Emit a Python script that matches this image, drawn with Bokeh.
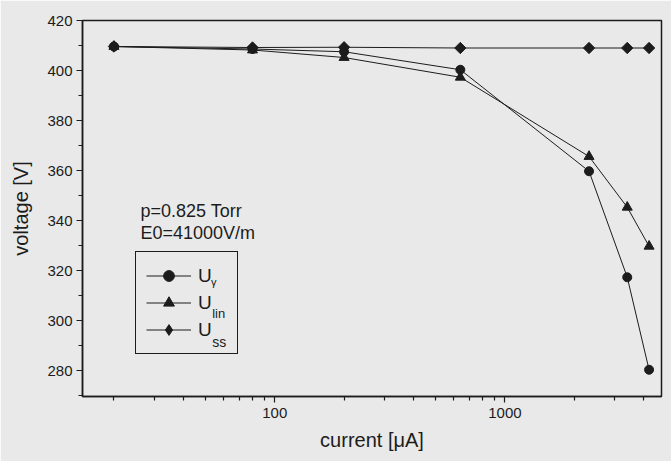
from bokeh.plotting import figure
from bokeh.models import (Range1d, FixedTicker, NumeralTickFormatter, Legend,
                          LegendItem, Label)
from bokeh.embed import file_html
from bokeh.resources import INLINE
import numpy as np

# ---- data ----
current = [20, 80, 200, 640, 2320, 3400, 4230]          # µA
u_gamma = [409.6, 408.6, 407.5, 400.3, 359.7, 317.3, 280.3]
u_lin = [409.6, 408.2, 405.2, 397.3, 365.6, 345.3, 329.7]
u_ss = [409.6, 409.2, 409.3, 409.0, 409.0, 409.0, 409.0]

x_major = [100, 1000]
x_minor = [20, 30, 40, 50, 60, 70, 80, 90,
           200, 300, 400, 500, 600, 700, 800, 900,
           2000, 3000, 4000]
y_major = [280, 300, 320, 340, 360, 380, 400, 420]
y_minor = [270, 290, 310, 330, 350, 370, 390, 410]

series_names = ["U", "U", "U"]
series_subs = ["γ", "lin", "ss"]

BG = "#e9e9e9"
INK = "#1c1c1c"
FONT = "Liberation Sans"

p = figure(width=671, height=461, x_axis_type="log",
           x_range=Range1d(14.6, 4790), y_range=Range1d(269.6, 420),
           output_backend="svg", toolbar_location=None,
           min_border_left=82, min_border_right=10,
           min_border_top=20, min_border_bottom=65,
           background_fill_color=BG, border_fill_color=BG)
p.xgrid.visible = False
p.ygrid.visible = False
p.outline_line_color = INK
p.outline_line_width = 1.5
p.outline_line_alpha = 1

for ax in (p.xaxis[0], p.yaxis[0]):
    ax.axis_line_color = INK
    ax.axis_line_width = 1.5
    ax.major_tick_line_color = INK
    ax.minor_tick_line_color = INK
    ax.major_tick_line_width = 1.2
    ax.minor_tick_line_width = 1.2
    ax.major_tick_out = 6
    ax.major_tick_in = 0
    ax.minor_tick_out = 4
    ax.minor_tick_in = 0
    ax.major_label_text_font = FONT
    ax.major_label_text_font_size = "15px"
    ax.major_label_text_color = INK
    ax.axis_label_text_font = FONT
    ax.axis_label_text_font_size = "20px"
    ax.axis_label_text_font_style = "normal"
    ax.axis_label_text_color = INK

p.xaxis.ticker = FixedTicker(ticks=x_major, minor_ticks=x_minor)
p.xaxis.formatter = NumeralTickFormatter(format="0")
p.yaxis.ticker = FixedTicker(ticks=y_major, minor_ticks=y_minor)
p.xaxis.major_label_standoff = 5
p.yaxis.major_label_standoff = 4
p.xaxis.axis_label = "current [μA]"
p.yaxis.axis_label = "voltage [V]"
p.xaxis.axis_label_standoff = 8
p.yaxis.axis_label_standoff = 12

styles = [("circle", 9, 0.0), ("triangle", 10, 0.0), ("square", 8, np.pi / 4)]
legend_markers = [None, None, "diamond"]
items = []
for ys, (marker, size, angle), name, lm in zip([u_gamma, u_lin, u_ss], styles,
                                               series_names, legend_markers):
    ln = p.line(current, ys, line_color=INK, line_width=1)
    sc = p.scatter(current, ys, marker=marker, size=size, angle=angle,
                   fill_color=INK, line_color=INK)
    rends = [ln, sc]
    if lm is not None:
        # the legend draws markers unrotated, so use a hidden diamond renderer for it
        sc2 = p.scatter(current, ys, marker=lm, size=size, fill_color=INK,
                        line_color=INK, visible=False)
        rends = [ln, sc2]
    items.append(LegendItem(label=name, renderers=rends))

leg = Legend(items=items, location=(53, 42), padding=10, spacing=0,
             glyph_width=45, glyph_height=27, label_height=27, label_width=29,
             label_standoff=7, margin=0,
             label_text_font=FONT, label_text_font_size="19px",
             label_text_color=INK,
             border_line_color=INK, border_line_width=1.2, border_line_alpha=1,
             background_fill_color=BG, background_fill_alpha=0.0)
p.add_layout(leg)

sub_pos = [(128.5, 115, "11px"), (129.7, 83.5, "13px"), (129.7, 55, "14px")]
for (sx, sy, fs), txt in zip(sub_pos, series_subs):
    p.add_layout(Label(x=sx, y=sy, x_units="screen", y_units="screen",
                       text=txt, text_font=FONT, text_font_size=fs,
                       text_color=INK, text_baseline="alphabetic"))

p.add_layout(Label(x=58, y=186, x_units="screen", y_units="screen",
                   text="p=0.825 Torr", text_font=FONT, text_font_size="18px",
                   text_color=INK, text_baseline="alphabetic"))
p.add_layout(Label(x=58, y=163.3, x_units="screen", y_units="screen",
                   text="E0=41000V/m", text_font=FONT, text_font_size="18px",
                   text_color=INK, text_baseline="alphabetic"))

open("out.html", "w").write(file_html(p, INLINE))
